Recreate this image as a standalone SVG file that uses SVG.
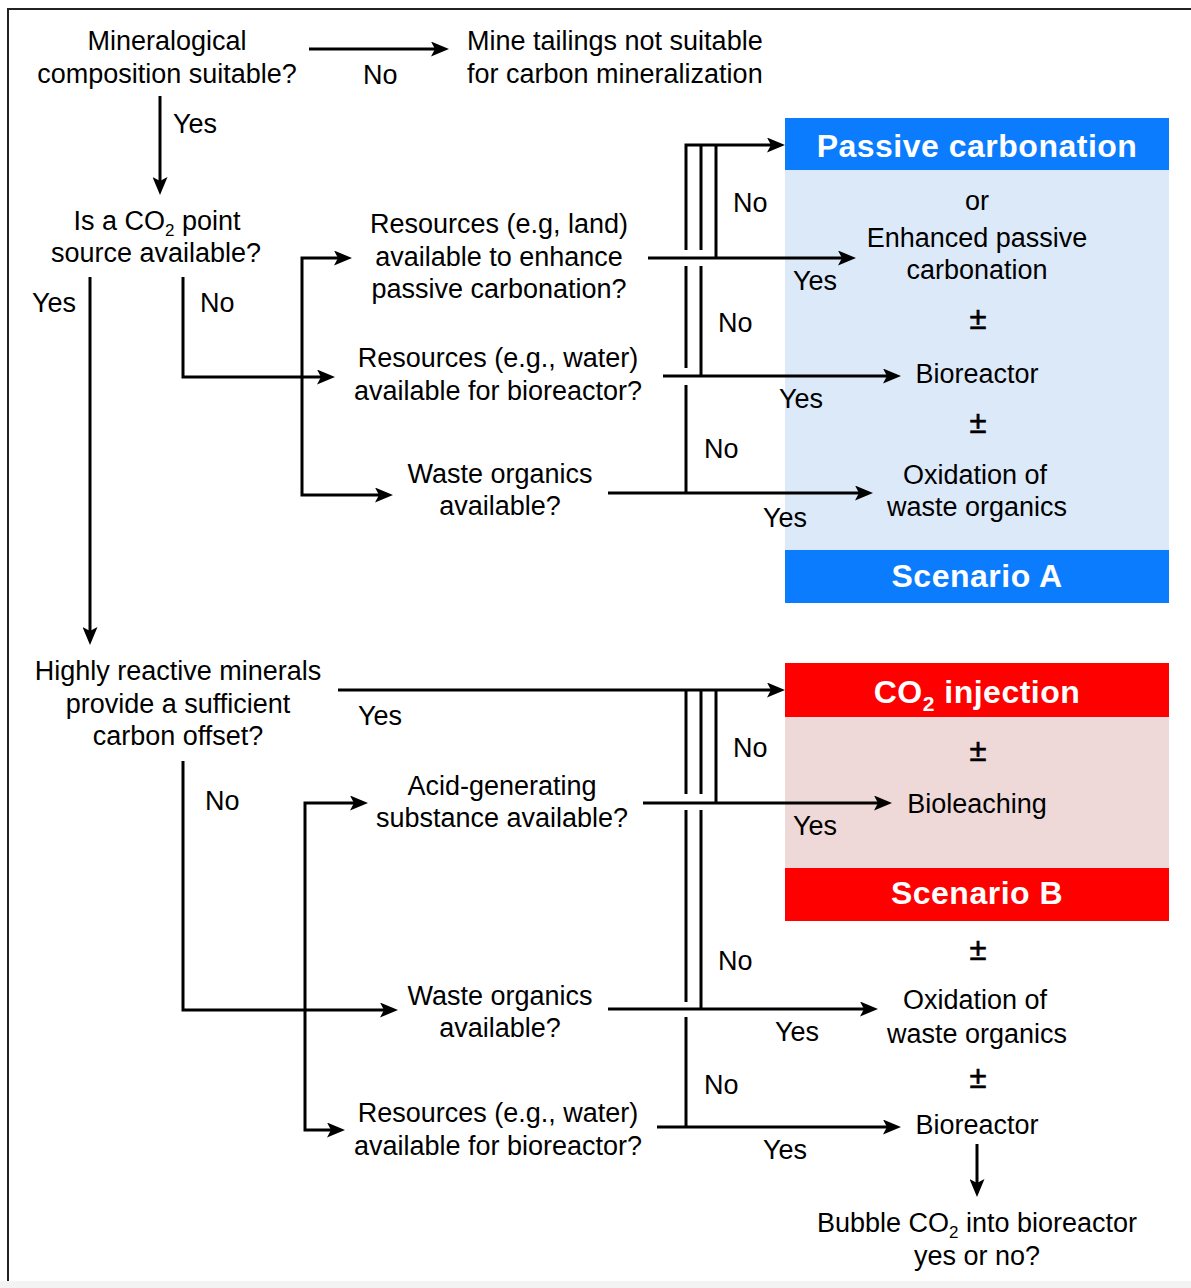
<svg xmlns="http://www.w3.org/2000/svg" width="1191" height="1288" viewBox="0 0 1191 1288">
<style>
text{font-family:"Liberation Sans",Arial,sans-serif;font-size:27px;fill:#000}
.c{text-anchor:middle}
.pm{font-size:31px;stroke:#000;stroke-width:0.6px}
.h{font-weight:bold;font-size:32px;fill:#fff;letter-spacing:0.5px;text-anchor:middle}
.ln{fill:none;stroke:#000;stroke-width:3}
.ar{marker-end:url(#ah)}
</style>
<defs>
<marker id="ah" viewBox="0 0 18 15" refX="10" refY="7.5" markerWidth="18" markerHeight="15" markerUnits="userSpaceOnUse" orient="auto">
<path d="M0,0 L18,7.5 L0,15 L4,7.5 Z" fill="#000"/>
</marker>
</defs>
<rect x="0" y="0" width="1191" height="1288" fill="#fff"/>
<rect x="0" y="1281" width="1191" height="7" fill="#f3f3f3"/>
<path d="M8,1281 V9 H1191" fill="none" stroke="#222" stroke-width="2"/>

<g id="panelA">
<rect x="785" y="118" width="384" height="52" fill="#0b7cfd"/>
<rect x="785" y="170" width="384" height="380" fill="#dce9f9"/>
<rect x="785" y="550" width="384" height="53" fill="#0b7cfd"/>
<text class="h" x="977" y="157">Passive carbonation</text>
<text class="c" x="977" y="210">or</text>
<text class="c" x="977" y="247">Enhanced passive</text>
<text class="c" x="977" y="279">carbonation</text>
<text class="c pm" x="978" y="329">±</text>
<text class="c" x="977" y="383">Bioreactor</text>
<text class="c pm" x="978" y="433">±</text>
<text class="c" x="975" y="484">Oxidation of</text>
<text class="c" x="977" y="516">waste organics</text>
<text class="h" x="977" y="587">Scenario A</text>
</g>

<g id="panelB">
<rect x="785" y="663" width="384" height="54" fill="#ff0000"/>
<rect x="785" y="717" width="384" height="151" fill="#eed8d8"/>
<rect x="785" y="868" width="384" height="53" fill="#ff0000"/>
<text class="h" x="977" y="703">CO<tspan font-size="21" dy="8">2</tspan><tspan dy="-8"> injection</tspan></text>
<text class="c pm" x="978" y="761">±</text>
<text class="c" x="977" y="813">Bioleaching</text>
<text class="h" x="977" y="904">Scenario B</text>
</g>

<g id="n-mineral"><text class="c" x="167" y="50">Mineralogical</text><text class="c" x="167" y="83">composition suitable?</text></g>
<g id="n-notsuitable"><text x="467" y="50">Mine tailings not suitable</text><text x="467" y="83">for carbon mineralization</text></g>
<g id="n-co2"><text class="c" x="157" y="230">Is a CO<tspan font-size="17" dy="6">2</tspan><tspan dy="-6"> point</tspan></text><text class="c" x="156" y="262">source available?</text></g>
<g id="n-land"><text class="c" x="499" y="233">Resources (e.g, land)</text><text class="c" x="499" y="266">available to enhance</text><text class="c" x="499" y="298">passive carbonation?</text></g>
<g id="n-waterA"><text class="c" x="498" y="367">Resources (e.g., water)</text><text class="c" x="498" y="400">available for bioreactor?</text></g>
<g id="n-wasteA"><text class="c" x="500" y="483">Waste organics</text><text class="c" x="500" y="515">available?</text></g>
<g id="n-highly"><text class="c" x="178" y="680">Highly reactive minerals</text><text class="c" x="178" y="713">provide a sufficient</text><text class="c" x="178" y="745">carbon offset?</text></g>
<g id="n-acid"><text class="c" x="502" y="795">Acid-generating</text><text class="c" x="502" y="827">substance available?</text></g>
<g id="n-wasteB"><text class="c" x="500" y="1005">Waste organics</text><text class="c" x="500" y="1037">available?</text></g>
<g id="n-waterB"><text class="c" x="498" y="1122">Resources (e.g., water)</text><text class="c" x="498" y="1155">available for bioreactor?</text></g>
<g id="n-outB">
<text class="c pm" x="978" y="960">±</text>
<text class="c" x="975" y="1009">Oxidation of</text>
<text class="c" x="977" y="1043">waste organics</text>
<text class="c pm" x="978" y="1088">±</text>
<text class="c" x="977" y="1134">Bioreactor</text>
</g>
<g id="n-bubble"><text class="c" x="977" y="1232">Bubble CO<tspan font-size="17" dy="6">2</tspan><tspan dy="-6"> into bioreactor</tspan></text><text class="c" x="977" y="1265">yes or no?</text></g>

<g id="connectors">
<path class="ln ar" d="M309,49 H441"/>
<path class="ln ar" d="M160,96 V187"/>
<path class="ln ar" d="M90,277 V637"/>
<path class="ln ar" d="M183,277 V377 H327"/>
<path class="ln ar" d="M302,377 V258 H344"/>
<path class="ln ar" d="M302,377 V495 H385"/>
<path class="ln ar" d="M648,258 H848"/>
<path class="ln ar" d="M663,376 H893"/>
<path class="ln ar" d="M608,493 H865"/>
<path class="ln ar" d="M686,250 V145 H777"/>
<path class="ln" d="M716,258 V145"/>
<path class="ln" d="M701,145 V250 M701,266 V376"/>
<path class="ln" d="M686,266 V368 M686,385 V493"/>

<path class="ln ar" d="M338,690 H777"/>
<path class="ln" d="M716,690 V803"/>
<path class="ln" d="M701,690 V794 M701,810 V1009"/>
<path class="ln" d="M686,690 V794 M686,810 V1002 M686,1017 V1127"/>
<path class="ln ar" d="M643,803 H884"/>
<path class="ln ar" d="M608,1009 H870"/>
<path class="ln ar" d="M657,1127 H893"/>
<path class="ln ar" d="M183,761 V1010 H390"/>
<path class="ln ar" d="M305,1010 V803 H360"/>
<path class="ln ar" d="M305,1010 V1130 H337"/>
<path class="ln ar" d="M977,1144 V1189"/>

<text x="363" y="84">No</text>
<text x="173" y="133">Yes</text>
<text x="32" y="312">Yes</text>
<text x="200" y="312">No</text>
<text x="733" y="212">No</text>
<text x="793" y="290">Yes</text>
<text x="718" y="332">No</text>
<text x="779" y="408">Yes</text>
<text x="704" y="458">No</text>
<text x="763" y="527">Yes</text>
<text x="358" y="725">Yes</text>
<text x="205" y="810">No</text>
<text x="733" y="757">No</text>
<text x="793" y="835">Yes</text>
<text x="718" y="970">No</text>
<text x="775" y="1041">Yes</text>
<text x="704" y="1094">No</text>
<text x="763" y="1159">Yes</text>
</g>
</svg>
